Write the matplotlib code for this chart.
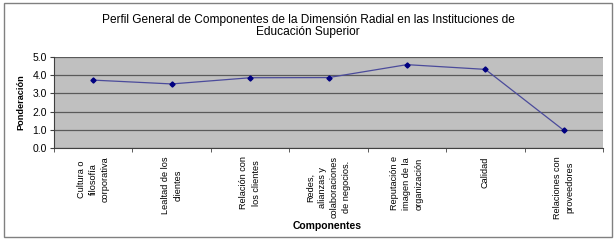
import matplotlib
matplotlib.use("Agg")
import matplotlib.pyplot as plt
import numpy as np
from matplotlib.patches import Rectangle

plt.rcParams['font.family'] = ['Liberation Sans', 'DejaVu Sans']

categorias = [
    "Cultura o\nfilosofía\ncorporativa",
    "Lealtad de los\nclientes",
    "Relación con\nlos clientes",
    "Redes,\nalianzas y\ncolaboraciones\nde negocios.",
    "Reputación e\nimagen de la\norganización",
    "Calidad",
    "Relaciones con\nproveedores",
]
ponderacion = [3.73, 3.52, 3.86, 3.87, 4.58, 4.32, 0.97]
yticks = [0.0, 1.0, 2.0, 3.0, 4.0, 5.0]

fig = plt.figure(figsize=(6.16, 2.4), dpi=100)
fig.patch.set_facecolor("white")
fig.patches.append(Rectangle((4 / 616, 3 / 240), 608 / 616, 234 / 240,
                             transform=fig.transFigure, fill=False,
                             edgecolor="#808080", linewidth=1.0))

ax = fig.add_axes([54 / 616, 1 - 148 / 240, 549 / 616, 91 / 240])
ax.set_facecolor("#C0C0C0")

x = np.arange(len(categorias))
ax.plot(x, ponderacion, color="#4B4B9B", linewidth=0.9, marker="D",
        markersize=2.6, markerfacecolor="#000080", markeredgecolor="#000080")

ax.set_xlim(-0.5, len(categorias) - 0.5)
ax.set_ylim(0, 5)
ax.set_yticks(yticks)
ax.set_yticklabels([f"{v:.1f}" for v in yticks], fontsize=7.5)
ax.grid(axis="y", color="#5A5A5A", linewidth=0.9)
ax.set_axisbelow(True)

ax.set_xticks(x)
ax.set_xticklabels(categorias, rotation=90, fontsize=6.6, ha="center",
                   va="top", multialignment="center", linespacing=1.45)
ax.set_xticks(np.arange(len(categorias) + 1) - 0.5, minor=True)
ax.tick_params(axis="x", which="major", length=0, pad=6)
ax.tick_params(axis="x", which="minor", length=3, color="#404040")
ax.tick_params(axis="y", length=3, color="#404040", pad=2)

for s in ("top", "right"):
    ax.spines[s].set_visible(False)
for s in ("left", "bottom"):
    ax.spines[s].set_color("#404040")
    ax.spines[s].set_linewidth(0.8)

ax.set_ylabel("Ponderación", fontsize=6.6, fontweight="bold", labelpad=5)
fig.text(327 / 616, 1 - 226 / 240, "Componentes", fontsize=7.5,
         fontweight="bold", ha="center", va="center")

fig.text(308 / 616, 1 - 26 / 240,
         "Perfil General de Componentes de la Dimensión Radial en las Instituciones de\nEducación Superior",
         fontsize=8.6, ha="center", va="center", linespacing=1.1)

fig.savefig("out.png", dpi=100, facecolor="white")
